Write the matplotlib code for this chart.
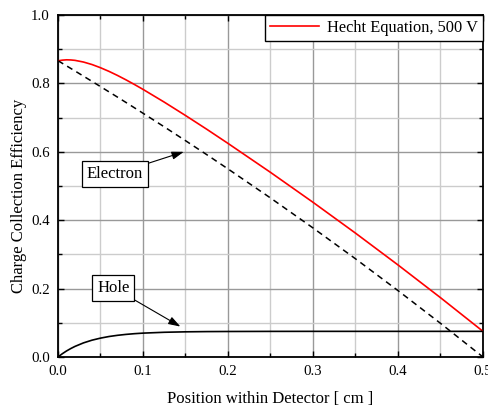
import matplotlib
matplotlib.use("Agg")
import matplotlib.pyplot as plt
from matplotlib.ticker import MultipleLocator

# values
position = [0.0, 0.005, 0.01, 0.015, 0.02, 0.03, 0.04, 0.05, 0.06, 0.07, 0.08, 0.09,
            0.1, 0.125, 0.15, 0.175, 0.2, 0.25, 0.3, 0.35, 0.4, 0.45, 0.5]
hecht_total = [0.866, 0.868, 0.869, 0.8686, 0.8674, 0.8625, 0.8552, 0.8459, 0.8352, 0.8233,
               0.8104, 0.7968, 0.7826, 0.7453, 0.7062, 0.666, 0.6246, 0.5399, 0.4524,
               0.3622, 0.2692, 0.1735, 0.075]
electron = [0.8664, 0.8589, 0.8514, 0.8439, 0.8364, 0.8212, 0.806, 0.7907, 0.7753, 0.7599,
            0.7443, 0.7286, 0.7128, 0.673, 0.6326, 0.5917, 0.55, 0.465, 0.3774, 0.2872,
            0.1942, 0.0985, 0.0]
hole = [0.0, 0.0094, 0.0176, 0.0247, 0.031, 0.0413, 0.0492, 0.0552, 0.0599, 0.0634,
        0.0661, 0.0682, 0.0698, 0.0723, 0.0736, 0.0743, 0.0746, 0.0749, 0.075, 0.075,
        0.075, 0.075, 0.075]

plt.rcParams["font.family"] = ["Liberation Serif", "DejaVu Serif"]

fig = plt.figure(figsize=(4.89, 4.08), dpi=100)
ax = fig.add_axes([0.1186, 0.125, 0.8691, 0.8382])

ax.plot(position, hecht_total, color="red", lw=1.2, label="Hecht Equation, 500 V", zorder=3)
ax.plot(position, electron, color="black", lw=1.1, ls=(0, (4, 3)), zorder=3)
ax.plot(position, hole, color="black", lw=1.2, zorder=3)

ax.set_xlim(0, 0.5)
ax.set_ylim(0, 1.0)
ax.xaxis.set_major_locator(MultipleLocator(0.1))
ax.xaxis.set_minor_locator(MultipleLocator(0.05))
ax.yaxis.set_major_locator(MultipleLocator(0.2))
ax.yaxis.set_minor_locator(MultipleLocator(0.1))
ax.xaxis.set_major_formatter(plt.FuncFormatter(lambda v, p: "%.1f" % v))
ax.yaxis.set_major_formatter(plt.FuncFormatter(lambda v, p: "%.1f" % v))

ax.grid(which="major", color="#999999", lw=1.0)
ax.grid(which="minor", color="#cccccc", lw=1.0)
ax.set_axisbelow(True)

ax.tick_params(which="both", direction="in", top=True, right=True, labelsize=10.7)
ax.tick_params(which="major", length=4, width=1, pad=6)
ax.tick_params(which="minor", length=3, width=1)
for s in ax.spines.values():
    s.set_linewidth(1.3)

ax.set_xlabel("Position within Detector [ cm ]", fontsize=12, labelpad=9)
ax.set_ylabel("Charge Collection Efficiency", fontsize=12)
ax.yaxis.set_label_coords(-0.074, 0.472)

leg = ax.legend(loc="upper right", borderaxespad=0, fancybox=False, fontsize=11.8,
                handlelength=3.0, handletextpad=0.5, borderpad=0.3, framealpha=1)
leg.get_frame().set_edgecolor("black")
leg.get_frame().set_linewidth(1.0)

box = dict(boxstyle="square,pad=0.3", fc="white", ec="black", lw=0.9)
arrow = dict(arrowstyle="-|>,head_length=0.6,head_width=0.2", color="black", lw=0.8,
             shrinkA=0, shrinkB=0)
ax.annotate("Electron", xy=(0.148, 0.600), xytext=(0.067, 0.535), fontsize=12,
            ha="center", va="center", bbox=box, arrowprops=arrow, zorder=5)
ax.annotate("Hole", xy=(0.144, 0.089), xytext=(0.065, 0.203), fontsize=12,
            ha="center", va="center", bbox=box, arrowprops=arrow, zorder=5)

fig.savefig("out.png", dpi=100)
